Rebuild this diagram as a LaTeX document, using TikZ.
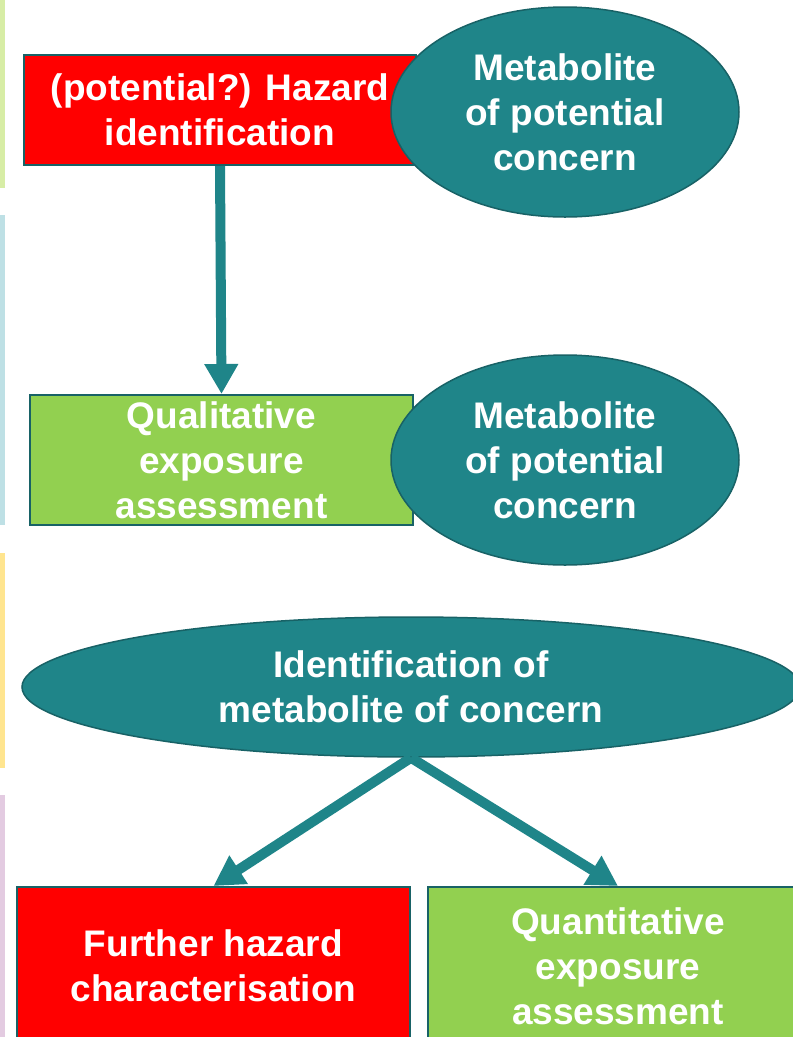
\documentclass[tikz,border=0pt]{standalone}
\usepackage{fontspec}
\setmainfont{Liberation Sans}
\usetikzlibrary{shapes.geometric,arrows.meta}
\definecolor{teal1}{RGB}{31,133,137}
\definecolor{teal2}{RGB}{24,98,102}
\definecolor{red1}{RGB}{255,0,0}
\definecolor{green1}{RGB}{146,208,80}
\definecolor{stripA}{RGB}{215,237,166}
\definecolor{stripB}{RGB}{190,224,229}
\definecolor{stripC}{RGB}{255,229,143}
\definecolor{stripD}{RGB}{227,203,225}
\begin{document}
\begin{tikzpicture}[x=1pt,y=-1pt,
  box/.style={rectangle,draw=teal2,line width=2pt,text=white,align=center,inner sep=0pt,
    font=\fontsize{37}{45}\selectfont\bfseries},
  meta/.style={ellipse,draw=teal2,line width=1.5pt,fill=teal1,text=white,align=center,inner sep=0pt,
    font=\fontsize{37}{45}\selectfont\bfseries},
  flow/.style={draw=teal1,line width=10pt,-{Triangle[width=32pt,length=30pt]}}]
\clip (0,0) rectangle (793,1037);
\fill[white] (0,0) rectangle (793,1037);
\fill[stripA] (0,0) rectangle (5,188);
\fill[stripB] (0,215) rectangle (5,525);
\fill[stripC] (0,553) rectangle (5,768);
\fill[stripD] (0,795) rectangle (5,1037);
\node(haz)[box,fill=red1,minimum width=392pt,minimum height=110pt] at (220,110) {(potential?) Hazard\\identification};
\node(met1)[meta,minimum width=348pt,minimum height=210pt] at (565,112) {Metabolite\\of potential\\concern};
\node(qual)[box,fill=green1,minimum width=383pt,minimum height=130pt] at (221.5,460) {Qualitative\\exposure\\assessment};
\node(met2)[meta,minimum width=348pt,minimum height=210pt] at (565,460) {Metabolite\\of potential\\concern};
\node(ident)[meta,minimum width=778pt,minimum height=140pt] at (411,687) {Identification of\\metabolite of concern};
\node(further)[box,fill=red1,minimum width=393pt,minimum height=158pt] at (213.5,966) {Further hazard\\characterisation};
\node(quant)[box,fill=green1,minimum width=380pt,minimum height=158pt] at (618,966) {Quantitative\\exposure\\assessment};
\draw[flow] (haz.south) -- (qual.north);
\draw[flow] (ident.south) -- (further.north);
\draw[flow] (ident.south) -- (quant.north);
\end{tikzpicture}
\end{document}
